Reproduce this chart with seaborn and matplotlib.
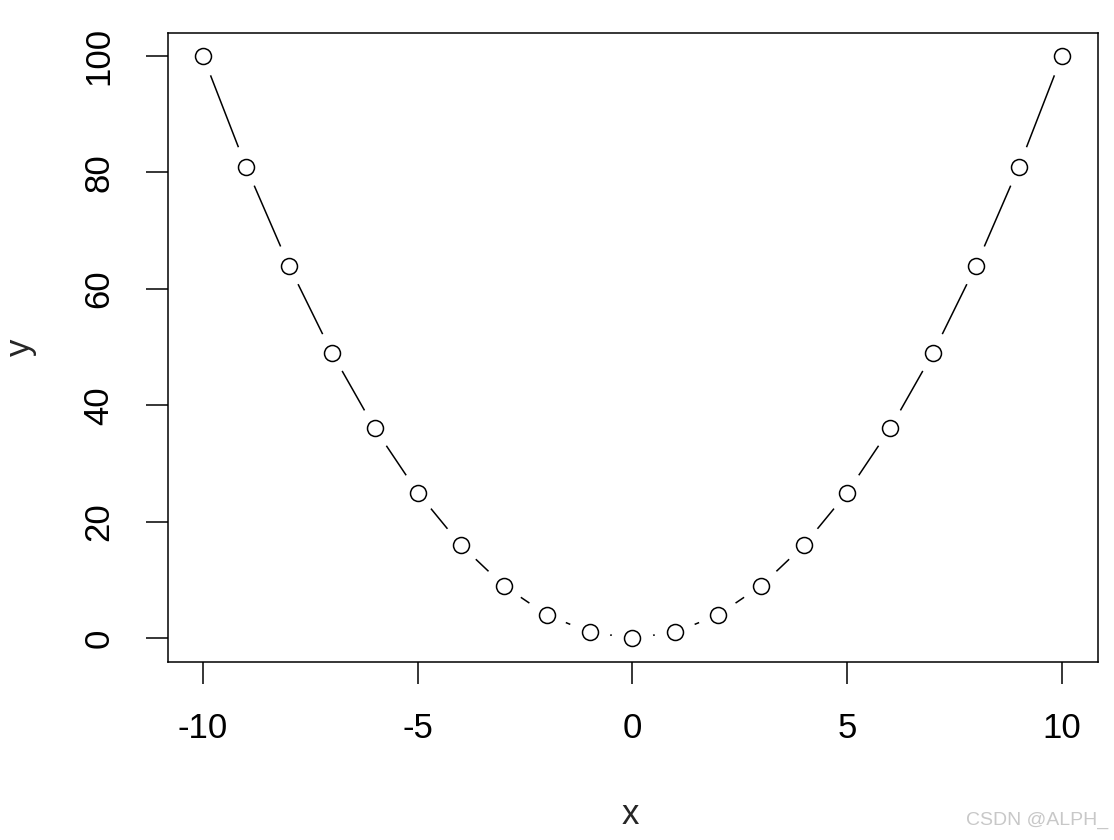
import matplotlib
matplotlib.use("Agg")
import matplotlib.pyplot as plt
import seaborn as sns
import pandas as pd

# data
x_vals = [-10, -9, -8, -7, -6, -5, -4, -3, -2, -1, 0, 1, 2, 3, 4, 5, 6, 7, 8, 9, 10]
y_vals = [100, 81, 64, 49, 36, 25, 16, 9, 4, 1, 0, 1, 4, 9, 16, 25, 36, 49, 64, 81, 100]
x_ticks = [-10, -5, 0, 5, 10]
y_ticks = [0, 20, 40, 60, 80, 100]

df = pd.DataFrame({"x": x_vals, "y": y_vals})

sns.set_style("white")
plt.rcParams["font.family"] = ["Liberation Sans", "DejaVu Sans"]

fig = plt.figure(figsize=(11.14, 8.4), dpi=100)
ax = fig.add_axes([168 / 1114, 1 - 662 / 840, 930 / 1114, 629 / 840])

# type="b": lines with gaps around the points
sns.lineplot(data=df, x="x", y="y", color="black", linewidth=1.1, ax=ax, zorder=1, sort=False)
sns.scatterplot(data=df, x="x", y="y", s=30 ** 2, color="white", edgecolor="none", ax=ax, zorder=2)
sns.scatterplot(data=df, x="x", y="y", s=11.5 ** 2, facecolor="white", edgecolor="black",
                linewidth=1.1, ax=ax, zorder=3)

ax.set_xlim(-10.815, 10.84)
ax.set_ylim(-4.12, 103.95)
ax.set_xticks(x_ticks)
ax.set_yticks(y_ticks)
ax.set_xticklabels([str(t) for t in x_ticks])
ax.set_yticklabels([str(t) for t in y_ticks], rotation=90, va="center")

for sp in ax.spines.values():
    sp.set_visible(True)
    sp.set_color("black")
    sp.set_linewidth(1.1)

ax.tick_params(axis="both", direction="out", length=15.8, width=1.1, color="black",
               labelsize=25, pad=20, labelcolor="black")
ax.tick_params(axis="y", pad=22)
ax.tick_params(left=True, bottom=True)

ax.set_xlabel("x", fontsize=25)
ax.set_ylabel("y", fontsize=25)
ax.xaxis.set_label_coords((630 - 168) / 930, -0.243)
ax.yaxis.set_label_coords((20 - 168) / 930, 0.5)
ax.xaxis.label.set_va("center")
ax.yaxis.label.set_va("center")

fig.text(1108 / 1114, 1 - 820 / 840, "CSDN @ALPH_", ha="right", va="center",
         fontsize=14, color="#c8c8c8")

fig.savefig("out.png", dpi=100, facecolor="white")
